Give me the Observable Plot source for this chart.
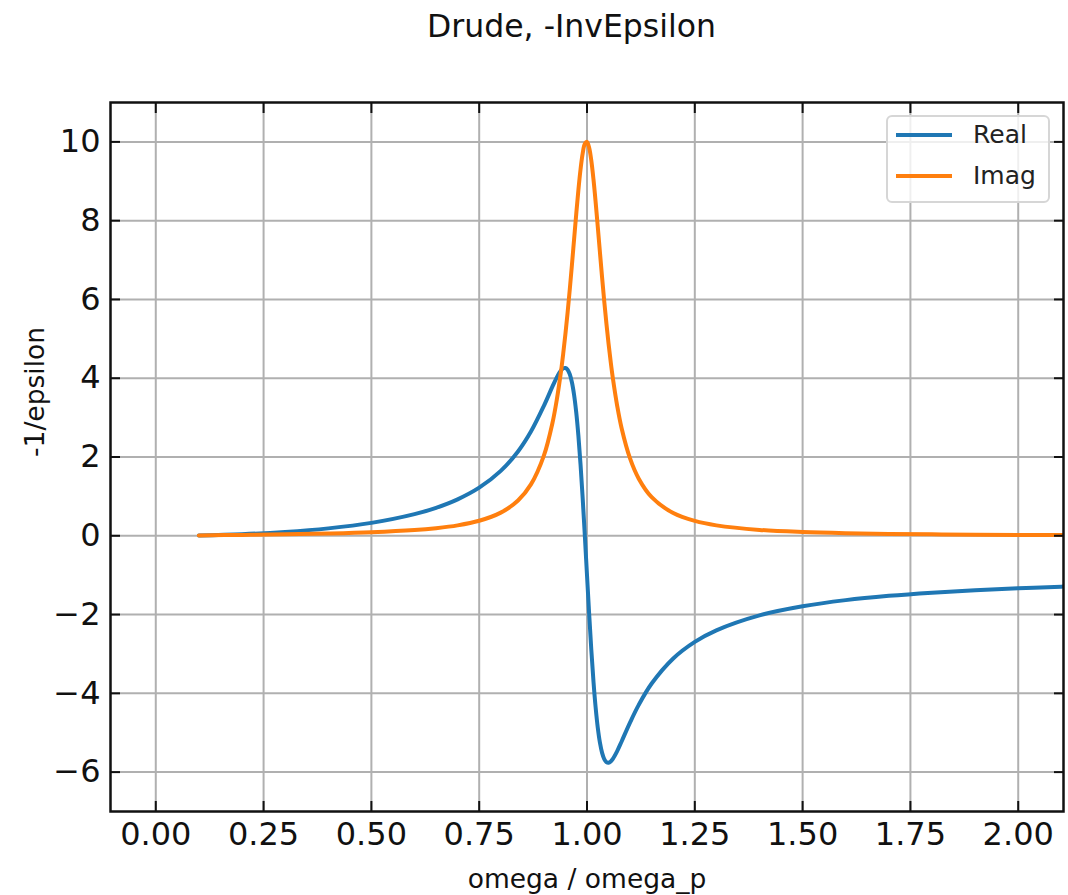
<!DOCTYPE html>
<html>
<head>
<meta charset="utf-8">
<script src="https://cdn.jsdelivr.net/npm/d3@7"></script>
<script src="https://cdn.jsdelivr.net/npm/@observablehq/plot@0.6"></script>
<style>
  html, body { margin: 0; padding: 0; background: #fff; }
  #wrap { position: relative; width: 1068px; height: 895px; font-family: "DejaVu Sans", sans-serif; }
  #legend { position: absolute; left: 886px; top: 115px; width: 160px; height: 84px;
            border: 2px solid #d6d6d6; border-radius: 6px; background: rgba(255,255,255,0.8); }
  .item { position: absolute; left: 0; height: 30px; width: 160px; }
  .swatch { position: absolute; left: 8px; width: 56px; height: 4px; }
  .lab { position: absolute; left: 85px; font-size: 25px; color: #222; line-height: 30px; }
</style>
</head>
<body>
<div id="wrap"></div>
<script>
const title = "Drude, -InvEpsilon";
const xLabel = "omega / omega_p";
const yLabel = "-1/epsilon";
const seriesNames = ["Real", "Imag"];
const seriesColors = ["#1f77b4", "#ff7f0e"];
const xTicks = [0, 0.25, 0.5, 0.75, 1.0, 1.25, 1.5, 1.75, 2.0];
const yTicks = [-6, -4, -2, 0, 2, 4, 6, 8, 10];

const omega = [0.1,0.2,0.3,0.4,0.5,0.6,0.65,0.7,0.75,0.8,0.84,0.87,0.9,0.92,0.93,0.94,0.945,0.95,0.955,0.96,0.965,0.97,0.975,0.98,0.985,0.99,0.995,1.0,1.005,1.01,1.015,1.02,1.025,1.03,1.035,1.04,1.045,1.05,1.055,1.06,1.07,1.08,1.1,1.12,1.15,1.2,1.25,1.3,1.4,1.5,1.6,1.7,1.8,1.9,2.0,2.1,2.12];
const realPart = [0.010,0.041,0.098,0.188,0.327,0.549,0.710,0.925,1.221,1.647,2.141,2.647,3.299,3.792,4.022,4.200,4.251,4.261,4.218,4.103,3.898,3.581,3.134,2.545,1.812,0.952,-0.002,-1.0,-1.983,-2.895,-3.695,-4.357,-4.874,-5.253,-5.512,-5.670,-5.746,-5.761,-5.728,-5.662,-5.466,-5.228,-4.737,-4.293,-3.751,-3.115,-2.694,-2.400,-2.020,-1.789,-1.634,-1.525,-1.444,-1.381,-1.332,-1.292,-1.285];
const imagPart = [0.010,0.022,0.036,0.057,0.089,0.145,0.193,0.264,0.381,0.588,0.896,1.305,2.036,2.870,3.457,4.199,4.638,5.127,5.664,6.249,6.872,7.518,8.163,8.772,9.302,9.709,9.950,10.0,9.852,9.524,9.050,8.475,7.843,7.194,6.557,5.951,5.390,4.877,4.413,3.998,3.298,2.744,1.957,1.450,0.981,0.577,0.377,0.264,0.149,0.095,0.065,0.047,0.036,0.028,0.022,0.018,0.017];

const rows = [];
omega.forEach((w, i) => rows.push({w, v: realPart[i], s: seriesNames[0]}));
omega.forEach((w, i) => rows.push({w, v: imagPart[i], s: seriesNames[1]}));

const minus = d => String(d).replace("-", "\u2212");

const chart = Plot.plot({
  width: 1068,
  height: 895,
  marginLeft: 110,
  marginRight: 5,
  marginTop: 102,
  marginBottom: 84,
  style: {fontFamily: "DejaVu Sans, sans-serif", fontSize: "32px", color: "#111", background: "#fff"},
  x: {domain: [-0.105, 2.105]},
  y: {domain: [-7, 11]},
  color: {domain: seriesNames, range: seriesColors},
  marks: [
    Plot.gridX(xTicks, {stroke: "#b0b0b0", strokeOpacity: 1, strokeWidth: 2}),
    Plot.gridY(yTicks, {stroke: "#b0b0b0", strokeOpacity: 1, strokeWidth: 2}),
    Plot.line(rows, {x: "w", y: "v", z: "s", stroke: "s", strokeWidth: 4, curve: "catmull-rom", clip: true}),
    Plot.axisX(xTicks, {anchor: "bottom", tickSize: 0, stroke: "none", tickPadding: 11, tickFormat: d3.format(".2f"), label: null, fontSize: 32}),
    Plot.axisY(yTicks, {anchor: "left", tickSize: 0, stroke: "none", tickPadding: 10, tickFormat: minus, label: null, fontSize: 32}),
    Plot.axisX(xTicks, {anchor: "bottom", tickSize: -10, fill: "none", strokeWidth: 2, label: null}),
    Plot.axisX(xTicks, {anchor: "top", tickSize: -10, fill: "none", strokeWidth: 2, label: null}),
    Plot.axisY(yTicks, {anchor: "left", tickSize: -10, fill: "none", strokeWidth: 2, label: null}),
    Plot.axisY(yTicks, {anchor: "right", tickSize: -10, fill: "none", strokeWidth: 2, label: null}),
    Plot.frame({stroke: "#111", strokeWidth: 2.5}),
    Plot.text([title], {frameAnchor: "top", dx: -15.5, dy: -66, lineAnchor: "bottom", fontSize: 31.5, fill: "#111", text: d => d}),
    Plot.text([xLabel], {frameAnchor: "bottom", dy: 76, lineAnchor: "bottom", fontSize: 26.5, fill: "#111", text: d => d}),
    Plot.text([yLabel], {frameAnchor: "left", dx: -75, rotate: -90, fontSize: 26.5, fill: "#111", text: d => d})
  ]
});

const wrap = document.getElementById("wrap");
wrap.appendChild(chart);

const legend = document.createElement("div");
legend.id = "legend";
seriesNames.forEach((name, i) => {
  const item = document.createElement("div");
  item.className = "item";
  item.style.top = (i === 0 ? 3 : 44) + "px";
  const sw = document.createElement("div");
  sw.className = "swatch";
  sw.style.background = seriesColors[i];
  sw.style.top = "13px";
  const lab = document.createElement("div");
  lab.className = "lab";
  lab.style.top = "0px";
  lab.textContent = name;
  item.appendChild(sw);
  item.appendChild(lab);
  legend.appendChild(item);
});
wrap.appendChild(legend);
</script>
</body>
</html>
